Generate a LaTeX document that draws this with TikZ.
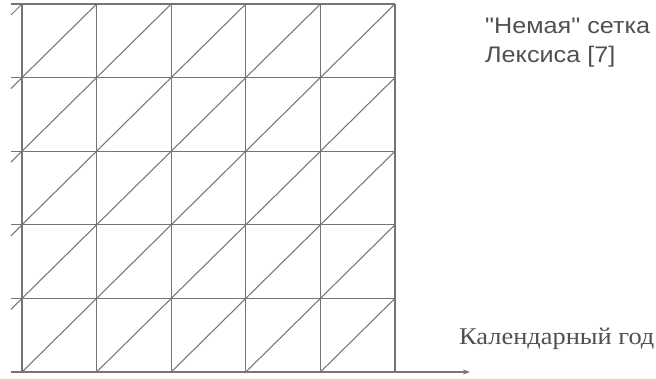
\documentclass[tikz,border=0pt]{standalone}
\usepackage{fontspec}
\setmainfont{Liberation Serif}[FakeStretch=1.1]
\newfontfamily\arialf{Liberation Sans}[FakeStretch=1.12]
\usetikzlibrary{arrows.meta}
\definecolor{gridc}{HTML}{757575}
\definecolor{txtc}{HTML}{505050}
\begin{document}
\begin{tikzpicture}[x=1pt,y=-1pt,
  gridline/.style={draw=gridc,line width=1.3pt},
  diagline/.style={draw=gridc,line width=1.05pt},
  axisline/.style={draw=gridc,line width=1.3pt,-{Stealth[length=7pt,width=5pt]}},
  sanslabel/.style={text=txtc,font=\arialf\fontsize{22.5}{29}\selectfont,inner sep=0pt,anchor=base west},
  seriflabel/.style={text=txtc,font=\fontsize{24}{28}\selectfont,inner sep=0pt,anchor=base west}]
\useasboundingbox (0,0) rectangle (656,378);
\def\xa{22}\def\dx{74.6}\def\ya{4}\def\dy{73.6}
% vertical lines
\foreach \i in {0,...,5}{
  \draw[gridline] (\xa+\i*\dx,\ya) -- (\xa+\i*\dx,\ya+5*\dy);
}
% horizontal lines (except bottom axis)
\foreach \j in {0,...,4}{
  \draw[gridline] (11,\ya+\j*\dy) -- (\xa+5*\dx,\ya+\j*\dy);
}
% diagonals inside cells
\foreach \i in {0,...,4}{
  \foreach \j in {0,...,4}{
    \draw[diagline] (\xa+\i*\dx,\ya+\j*\dy+\dy) -- (\xa+\i*\dx+\dx,\ya+\j*\dy);
  }
}
% diagonal stubs left of grid
\foreach \j in {0,...,4}{
  \draw[diagline] (11,\ya+\j*\dy+11) -- (\xa,\ya+\j*\dy);
}
% axis
\coordinate (axs) at (11,\ya+5*\dy);
\coordinate (axe) at (470,\ya+5*\dy);
\draw[axisline] (axs) -- (axe);
\node[sanslabel] (title1) at (485,33) {"Немая" сетка};
\node[sanslabel] (title2) at (485,62) {Лексиса [7]};
\node[seriflabel] (axlabel) at (459,344) {Календарный год};
\end{tikzpicture}
\end{document}
